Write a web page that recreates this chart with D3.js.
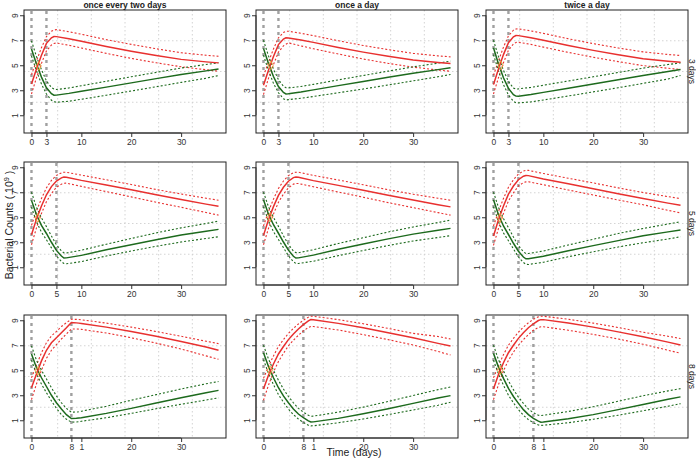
<!DOCTYPE html>
<html><head><meta charset="utf-8">
<script src="https://cdn.jsdelivr.net/npm/d3@7"></script>
<style>body{margin:0;background:#fff}svg{display:block}text{font-family:"Liberation Sans",Arial,sans-serif}</style>
</head><body><svg id="c" width="696" height="460"></svg>
<script>
// ---------- data ----------
const colLabels = ["once every two days","once a day","twice a day"];
const rowLabels = ["3 days","5 days","8 days"];
const treatEnd = [3,5,8];
const xTicks = [[0,3,10,20,30],[0,5,10,20,30],[0,8,10,20,30]];
const xTickLabels = [["0","3","10","20","30"],["0","5","10","20","30"],["0","8","1","20","30"]];
const yTicks = [1,3,5,7,9];
const yTickLabels = ["1","3","5","7","9"];

const timeR1 = [0,1,2,3,4,4.5,5,7.5,10,15,20,25,30,35,37.5];
const timeR2 = [0,1,2,3,4,5,6,6.5,7,10,15,20,25,30,35,37.5];
const timeR3 = [0,1,2,3,4,5,6,7,8,9,9.5,10,15,20,25,30,35,37.5];

// row 1 (3 days)
const rM11 = [3.5,4.7,5.8,6.75,7.2,7.3,7.29,7.12,6.92,6.5,6.12,5.78,5.47,5.27,5.19];
const rH11 = [4.25,5.35,6.4,7.3,7.72,7.82,7.85,7.68,7.48,7.05,6.67,6.32,6.0,5.8,5.72];
const rL11 = [2.7,4.0,5.15,6.15,6.62,6.74,6.78,6.6,6.38,5.95,5.55,5.2,4.88,4.64,4.52];
const gM11 = [6.3,5.1,4.05,3.2,2.72,2.6,2.61,2.75,2.92,3.25,3.59,3.93,4.26,4.55,4.7];
const gH11 = [6.95,5.7,4.65,3.75,3.22,3.1,3.06,3.18,3.36,3.72,4.08,4.43,4.78,5.06,5.2];
const gL11 = [5.75,4.55,3.5,2.7,2.2,2.08,2.04,2.12,2.28,2.6,2.94,3.28,3.63,3.96,4.18];

const rM12 = [3.4,4.6,5.7,6.65,7.1,7.19,7.18,7.02,6.83,6.42,6.05,5.72,5.42,5.22,5.14];
const rH12 = [4.15,5.25,6.3,7.2,7.62,7.72,7.72,7.56,7.37,6.96,6.58,6.25,5.95,5.75,5.67];
const rL12 = [2.65,3.95,5.05,6.05,6.55,6.68,6.79,6.55,6.32,5.9,5.5,5.15,4.85,4.62,4.52];
const gM12 = [6.35,5.15,4.1,3.3,2.82,2.71,2.72,2.86,3.03,3.37,3.7,4.04,4.36,4.65,4.8];
const gH12 = [7.0,5.75,4.7,3.85,3.32,3.2,3.19,3.3,3.47,3.83,4.18,4.53,4.87,5.17,5.33];
const gL12 = [5.8,4.6,3.55,2.8,2.32,2.22,2.25,2.36,2.5,2.8,3.1,3.42,3.75,4.08,4.26];

const rM13 = [3.45,4.7,5.85,6.8,7.28,7.38,7.37,7.2,7.0,6.58,6.19,5.84,5.52,5.32,5.24];
const rH13 = [4.2,5.35,6.45,7.35,7.8,7.9,7.91,7.75,7.55,7.12,6.73,6.38,6.07,5.86,5.78];
const rL13 = [2.7,4.0,5.2,6.2,6.7,6.82,6.84,6.67,6.45,6.03,5.64,5.29,4.97,4.76,4.66];
const gM13 = [6.4,5.1,4.0,3.15,2.65,2.53,2.52,2.66,2.83,3.16,3.5,3.84,4.18,4.5,4.66];
const gH13 = [7.0,5.7,4.6,3.7,3.18,3.1,3.11,3.23,3.4,3.74,4.08,4.42,4.77,5.06,5.19];
const gL13 = [5.85,4.55,3.45,2.62,2.12,2.0,1.99,2.07,2.22,2.54,2.87,3.2,3.55,3.9,4.18];

// row 2 (5 days)
const rM21 = [3.6,4.85,5.9,6.8,7.45,7.9,8.15,8.21,8.2,7.95,7.58,7.2,6.8,6.42,6.05,5.88];
const rH21 = [4.35,5.5,6.5,7.35,7.95,8.35,8.55,8.6,8.6,8.37,8.0,7.62,7.22,6.86,6.52,6.36];
const rL21 = [2.8,4.15,5.3,6.25,6.9,7.4,7.65,7.72,7.73,7.47,7.05,6.63,6.2,5.8,5.38,5.17];
const gM21 = [6.35,5.2,4.35,3.7,3.0,2.35,1.9,1.74,1.75,1.95,2.4,2.8,3.2,3.58,3.88,4.03];
const gH21 = [7.0,5.8,4.95,4.25,3.5,2.8,2.3,2.15,2.14,2.36,2.84,3.3,3.75,4.15,4.5,4.69];
const gL21 = [5.8,4.65,3.8,3.2,2.55,1.9,1.45,1.3,1.28,1.45,1.9,2.3,2.68,3.02,3.3,3.44];

const rM22 = [3.55,4.8,5.85,6.75,7.4,7.88,8.17,8.21,8.2,7.93,7.55,7.16,6.76,6.38,6.0,5.83];
const rH22 = [4.3,5.45,6.45,7.3,7.9,8.33,8.57,8.6,8.6,8.35,7.98,7.6,7.2,6.84,6.52,6.36];
const rL22 = [2.8,4.1,5.25,6.2,6.85,7.35,7.65,7.7,7.7,7.44,7.02,6.6,6.17,5.77,5.37,5.17];
const gM22 = [6.4,5.25,4.4,3.72,3.02,2.37,1.88,1.74,1.75,1.97,2.44,2.86,3.27,3.65,3.96,4.11];
const gH22 = [7.0,5.85,5.0,4.27,3.52,2.82,2.3,2.17,2.16,2.4,2.9,3.36,3.82,4.22,4.58,4.77];
const gL22 = [5.85,4.7,3.85,3.22,2.57,1.92,1.45,1.3,1.3,1.48,1.93,2.34,2.74,3.1,3.38,3.53];

const rM23 = [3.5,4.8,5.9,6.85,7.5,8.0,8.28,8.34,8.33,8.06,7.68,7.28,6.88,6.5,6.13,5.96];
const rH23 = [4.3,5.45,6.5,7.4,8.0,8.45,8.7,8.75,8.75,8.5,8.12,7.75,7.35,6.98,6.65,6.49];
const rL23 = [2.75,4.1,5.3,6.3,6.95,7.5,7.77,7.83,7.84,7.6,7.18,6.78,6.38,6.0,5.55,5.35];
const gM23 = [6.4,5.2,4.3,3.62,2.92,2.28,1.82,1.68,1.68,1.88,2.32,2.73,3.13,3.52,3.83,3.98];
const gH23 = [7.0,5.8,4.9,4.17,3.42,2.73,2.24,2.1,2.1,2.3,2.78,3.24,3.7,4.1,4.46,4.64];
const gL23 = [5.85,4.65,3.75,3.12,2.47,1.83,1.38,1.24,1.22,1.4,1.84,2.24,2.62,2.96,3.26,3.44];

// row 3 (8 days)
const rM31 = [3.6,4.7,5.75,6.6,7.2,7.6,8.0,8.4,8.82,8.79,8.77,8.74,8.45,8.1,7.72,7.3,6.86,6.6];
const rH31 = [4.4,5.4,6.4,7.2,7.75,8.1,8.5,8.8,9.08,9.07,9.06,9.04,8.77,8.45,8.1,7.72,7.32,7.13];
const rL31 = [2.65,3.9,5.0,5.95,6.6,7.05,7.5,7.9,8.3,8.3,8.29,8.27,7.98,7.6,7.17,6.7,6.15,5.88];
const gM31 = [6.3,5.2,4.4,3.7,3.0,2.4,1.9,1.45,1.14,1.16,1.18,1.2,1.55,1.95,2.38,2.8,3.2,3.39];
const gH31 = [6.95,5.8,5.0,4.3,3.6,2.95,2.4,1.95,1.64,1.66,1.68,1.72,2.12,2.6,3.05,3.5,3.92,4.1];
const gL31 = [5.8,4.7,3.9,3.2,2.55,1.95,1.45,1.08,0.85,0.86,0.88,0.92,1.2,1.55,1.92,2.28,2.62,2.79];

const rM32 = [3.5,4.6,5.5,6.3,6.9,7.45,7.9,8.3,8.65,8.95,9.05,9.04,8.75,8.4,8.0,7.6,7.15,6.94];
const rH32 = [4.35,5.3,6.15,6.9,7.45,7.95,8.35,8.7,9.0,9.25,9.32,9.32,9.05,8.72,8.35,7.95,7.7,7.5];
const rL32 = [2.6,3.8,4.85,5.7,6.35,6.95,7.4,7.8,8.15,8.42,8.5,8.5,8.22,7.85,7.45,7.02,6.5,6.22];
const gM32 = [6.4,5.3,4.4,3.6,2.95,2.4,1.9,1.5,1.2,0.95,0.86,0.87,1.15,1.52,1.92,2.35,2.78,2.97];
const gH32 = [7.0,5.9,5.0,4.2,3.5,2.9,2.4,1.95,1.65,1.4,1.32,1.33,1.65,2.05,2.5,2.98,3.45,3.66];
const gL32 = [5.85,4.75,3.85,3.05,2.45,1.9,1.45,1.1,0.82,0.6,0.55,0.56,0.8,1.1,1.45,1.82,2.2,2.44];

const rM33 = [3.5,4.65,5.6,6.4,7.0,7.55,8.0,8.4,8.72,8.98,9.05,9.05,8.78,8.45,8.07,7.68,7.25,7.02];
const rH33 = [4.4,5.35,6.25,7.0,7.55,8.05,8.45,8.8,9.08,9.27,9.32,9.32,9.08,8.77,8.42,8.04,7.72,7.54];
const rL33 = [2.65,3.85,4.95,5.8,6.45,7.0,7.45,7.85,8.2,8.42,8.48,8.48,8.2,7.87,7.5,7.08,6.6,6.36];
const gM33 = [6.35,5.25,4.35,3.55,2.9,2.35,1.85,1.45,1.15,0.93,0.85,0.86,1.12,1.45,1.85,2.26,2.68,2.87];
const gH33 = [7.0,5.85,4.95,4.15,3.45,2.85,2.35,1.9,1.6,1.4,1.38,1.4,1.7,2.08,2.52,2.96,3.35,3.53];
const gL33 = [5.8,4.7,3.8,3.0,2.4,1.85,1.4,1.05,0.8,0.62,0.59,0.6,0.8,1.08,1.4,1.76,2.12,2.33];

const crossX = [[1.45,1.45,1.45],[1.25,1.3,1.3],[1.3,1.3,1.35]];
const crossY = [[4.95,5.0,5.0],[4.95,5.0,4.95],[4.95,5.0,5.0]];

const times = [timeR1,timeR2,timeR3];
const panelData = [
  [[rM11,rH11,rL11,gM11,gH11,gL11],[rM12,rH12,rL12,gM12,gH12,gL12],[rM13,rH13,rL13,gM13,gH13,gL13]],
  [[rM21,rH21,rL21,gM21,gH21,gL21],[rM22,rH22,rL22,gM22,gH22,gL22],[rM23,rH23,rL23,gM23,gH23,gL23]],
  [[rM31,rH31,rL31,gM31,gH31,gL31],[rM32,rH32,rL32,gM32,gH32,gL32],[rM33,rH33,rL33,gM33,gH33,gL33]]
];

// ---------- layout ----------
const colLeft = [24,256,486], panelW = 202;
const rowTop = [10,162,315], panelH = 123;
const RED = "#e8302f", GREEN = "#1d6a1d";

const svg = d3.select("#c");

for (let r=0;r<3;r++){
  for (let c=0;c<3;c++){
    const L = colLeft[c], T = rowTop[r];
    const x = d3.scaleLinear().domain([-1.5,39]).range([L, L+panelW]);
    const y = d3.scaleLinear().domain([-0.42,9.42]).range([T+panelH, T]);
    const g = svg.append("g");
    // grid
    for (let k=1;k<6;k++){
      const gx = L + k*panelW/6;
      g.append("line").attr("x1",gx).attr("x2",gx).attr("y1",T).attr("y2",T+panelH)
        .attr("stroke","#cfcfcf").attr("stroke-width",0.9).attr("stroke-dasharray","1.5,2.5");
    }
    for (let k=1;k<4;k++){
      const gy = T + k*panelH/4;
      g.append("line").attr("x1",L).attr("x2",L+panelW).attr("y1",gy).attr("y2",gy)
        .attr("stroke","#cfcfcf").attr("stroke-width",0.9).attr("stroke-dasharray","1.5,2.5");
    }
    // treatment lines
    [0, treatEnd[r]].forEach(v=>{
      g.append("line").attr("x1",x(v)).attr("x2",x(v)).attr("y1",T+1).attr("y2",T+panelH)
        .attr("stroke","#a0a0a0").attr("stroke-width",2.4).attr("stroke-dasharray","3,4");
    });
    const t = times[r];
    const [rM,rH,rL,gM,gH,gL] = panelData[r][c];
    const line = arr => d3.line().x((d,i)=>x(t[i])).y(d=>y(d))(arr);
    const clipId = "clip"+r+c;
    g.append("clipPath").attr("id",clipId).append("rect").attr("x",L).attr("y",T).attr("width",panelW).attr("height",panelH);
    const cg = g.append("g").attr("clip-path","url(#"+clipId+")");
    [[rH,RED],[rL,RED],[gH,GREEN],[gL,GREEN]].forEach(([a,col])=>{
      cg.append("path").attr("d",line(a)).attr("fill","none").attr("stroke",col)
        .attr("stroke-width",1.1).attr("stroke-dasharray","2,2");
    });
    cg.append("path").attr("d",line(gM)).attr("fill","none").attr("stroke",GREEN).attr("stroke-width",1.5);
    cg.append("path").attr("d",line(rM)).attr("fill","none").attr("stroke",RED).attr("stroke-width",1.5);
    // crossing marker
    g.append("path").attr("d",d3.symbol().type(d3.symbolDiamond).size(22)())
      .attr("transform",`translate(${x(crossX[r][c])},${y(crossY[r][c])})`)
      .attr("fill","none").attr("stroke","#e9a23b").attr("stroke-width",0.9);
    // box
    g.append("rect").attr("x",L).attr("y",T).attr("width",panelW).attr("height",panelH)
      .attr("fill","none").attr("stroke","#222").attr("stroke-width",1);
    // x axis
    const xa = g.append("g").attr("transform",`translate(0,${T+panelH})`)
      .call(d3.axisBottom(x).tickValues(xTicks[r]).tickSize(4).tickPadding(2)
        .tickFormat((d,i)=>xTickLabels[r][i]));
    xa.select(".domain").attr("d",`M${x(xTicks[r][0])},0H${x(xTicks[r][xTicks[r].length-1])}`).attr("stroke","#333");
    xa.selectAll("line").attr("stroke","#333");
    xa.selectAll("text").attr("font-size",8.5).attr("fill","#333");
    // y axis
    const ya = g.append("g").attr("transform",`translate(${L},0)`)
      .call(d3.axisLeft(y).tickValues(yTicks).tickSize(4).tickFormat((d,i)=>yTickLabels[i]));
    ya.select(".domain").attr("d",`M0,${y(1)}V${y(9)}`).attr("stroke","#333");
    ya.selectAll("line").attr("stroke","#333");
    ya.selectAll("text").attr("font-size",8.5).attr("fill","#333")
      .attr("x",null).attr("dy",null).attr("text-anchor","middle")
      .attr("transform",d=>`translate(-8.5,0) rotate(-90)`).attr("y",0).attr("dy","0.35em");
  }
}
// column titles
colLabels.forEach((s,c)=>{
  svg.append("text").attr("x",colLeft[c]+panelW/2).attr("y",7.5).attr("text-anchor","middle")
    .attr("font-size",8.5).attr("font-weight","bold").attr("fill","#222").text(s);
});
// row labels
rowLabels.forEach((s,r)=>{
  const cy = rowTop[r]+panelH/2;
  svg.append("text").attr("transform",`translate(${689},${cy}) rotate(90)`).attr("text-anchor","middle")
    .attr("font-size",8.5).attr("fill","#222").text(s);
});
// axis titles
const yl = svg.append("text").attr("transform","translate(12.5,225) rotate(-90)").attr("text-anchor","middle")
  .attr("font-size",10.5).attr("fill","#222");
yl.append("tspan").text("Bacterial Counts ( 10");
yl.append("tspan").attr("dy",-4).attr("font-size",7.5).text("9");
yl.append("tspan").attr("dy",4).text(" )");
svg.append("text").attr("x",354).attr("y",456).attr("text-anchor","middle").attr("font-size",10.5)
  .attr("fill","#222").text("Time (days)");
</script></body></html>
